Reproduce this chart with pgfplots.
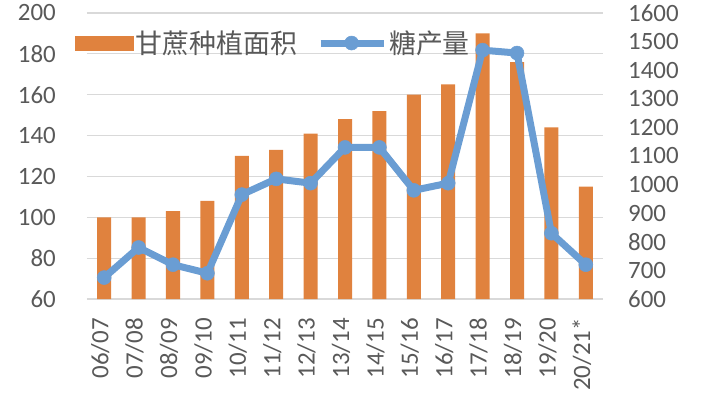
\documentclass[border=0pt]{standalone}
\usepackage{pgfplots}
\pgfplotsset{compat=1.18}
\usepackage{fontspec}
\setmainfont{Carlito}
\newfontfamily\cjk{Noto Sans CJK SC}
\definecolor{barorange}{HTML}{E0823E}
\definecolor{lineblue}{HTML}{6A9DD3}
\definecolor{txtgray}{HTML}{595959}
\definecolor{gridgray}{HTML}{D9D9D9}
\begin{document}
\begin{tikzpicture}
\pgfplotsset{
  common/.style={
    scale only axis, width=516bp, height=286bp, xmin=-0.5, xmax=14.5,
    /pgf/number format/assume math mode=true,
    /pgf/number format/1000 sep={},
    major tick length=0pt, tick style={draw=none},
    ticklabel style={font=\fontsize{25}{29}\selectfont, text=txtgray},
  }
}
\begin{axis}[common, ymin=60, ymax=200, ytick={60,80,...,200},
  axis line style={draw=none},
  ymajorgrids, grid style={gridgray, line width=1.2bp},
  xtick={0,...,14},
  xticklabels={06/07,07/08,08/09,09/10,10/11,11/12,12/13,13/14,14/15,15/16,16/17,17/18,18/19,19/20,20/21*},
  xticklabel style={yshift=-19bp, xshift=-4bp, rotate=90, anchor=east, inner sep=0pt},
  yticklabel style={anchor=east, inner sep=0pt, xshift=-31bp},
  ybar, bar width=14bp]
\addplot[fill=barorange, draw=none] coordinates {
(0,100) (1,100) (2,103) (3,108) (4,130) (5,133) (6,141) (7,148)
(8,152) (9,160) (10,165) (11,190) (12,176) (13,144) (14,115)};
\end{axis}
\begin{axis}[common, ymin=600, ymax=1600, ytick={600,700,...,1600},
  axis x line=none, axis y line*=right, axis line style={draw=none},
  yticklabel style={anchor=west, inner sep=0pt, xshift=25bp},
  legend style={at={(rel axis cs:-0.023,0.895)}, anchor=west, draw=none, fill=none,
    font=\cjk\fontsize{27}{31}\selectfont, text=txtgray, inner sep=0pt,
    /tikz/every even column/.append style={column sep=18bp}},
  legend columns=-1]
\addlegendimage{legend image code/.code={\fill[barorange] (0bp,-7bp) rectangle (58bp,7bp);}}
\addlegendentry{甘蔗种植面积}
\addplot[lineblue, line width=7bp, mark=*, mark size=7bp,
  mark options={fill=lineblue, draw=lineblue, line width=0.5bp},
  legend image code/.code={\draw[lineblue, line width=7bp, mark=*, mark size=7bp, mark options={fill=lineblue, draw=lineblue, line width=0.5bp}, mark repeat=2, mark phase=2] plot coordinates {(0bp,0bp) (31bp,0bp) (63bp,0bp)};}]
coordinates {
(0,675) (1,780) (2,720) (3,690) (4,965) (5,1020) (6,1005) (7,1130)
(8,1130) (9,980) (10,1005) (11,1470) (12,1460) (13,830) (14,720)};
\addlegendentry{糖产量}
\end{axis}
\pgfresetboundingbox
\path (-87bp,-95bp) rectangle (615bp,299bp);
\end{tikzpicture}
\end{document}
